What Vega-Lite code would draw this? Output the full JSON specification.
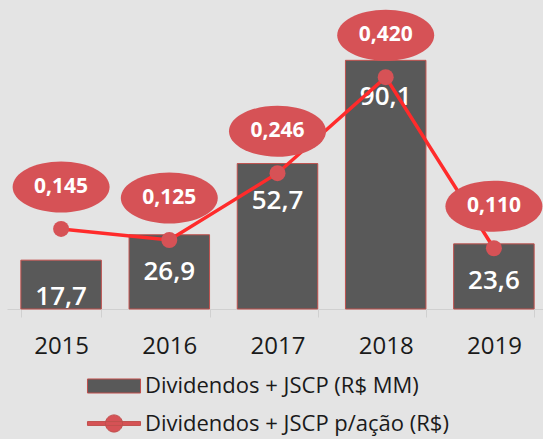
{
  "$schema": "https://vega.github.io/schema/vega-lite/v6.json",
  "width": 541,
  "height": 276,
  "autosize": "none",
  "padding": {"left": 7, "top": 33, "right": 0, "bottom": 130},
  "background": "#e4e4e4",
  "config": {
    "view": {"stroke": null},
    "font": "Open Sans",
    "locale": {"number": {"decimal": ",", "thousands": ".", "grouping": [3], "currency": ["R$", ""]}}
  },
  "data": {
    "values": [
      {"ano": "2015", "div": 17.7, "acao": 0.145},
      {"ano": "2016", "div": 26.9, "acao": 0.125},
      {"ano": "2017", "div": 52.7, "acao": 0.246},
      {"ano": "2018", "div": 90.1, "acao": 0.420},
      {"ano": "2019", "div": 23.6, "acao": 0.110}
    ]
  },
  "encoding": {
    "x": {
      "field": "ano",
      "type": "nominal",
      "scale": {"paddingInner": 0.256, "paddingOuter": 0.128},
      "axis": {
        "title": null,
        "labelAngle": 0,
        "labelFont": "Open Sans",
        "labelFontSize": 24,
        "labelColor": "#1a1a1a",
        "labelPadding": 17,
        "tickBand": "extent",
        "tickSize": 8,
        "tickColor": "#d0d0d0",
        "domainColor": "#d0d0d0",
        "domainWidth": 1,
        "grid": false
      }
    }
  },
  "layer": [
    {
      "mark": {"type": "bar", "stroke": "#c0504d", "strokeWidth": 1},
      "encoding": {
        "y": {"field": "div", "type": "quantitative", "scale": {"domain": [0, 100]}, "axis": null},
        "color": {
          "datum": "Dividendos + JSCP (R$ MM)",
          "scale": {
            "domain": ["Dividendos + JSCP (R$ MM)", "Dividendos + JSCP p/ação (R$)"],
            "range": ["#595959", "#d65256"]
          },
          "legend": {
            "title": null,
            "orient": "none",
            "legendX": 87,
            "legendY": 333,
            "direction": "vertical",
            "padding": 0,
            "symbolSize": 1521,
            "symbolOpacity": 1,
            "symbolStrokeColor": "#c0504d",
            "symbolStrokeWidth": 1,
            "labelFont": "Open Sans",
            "labelFontSize": 22,
            "labelColor": "#1a1a1a",
            "labelOffset": 11,
            "labelLimit": 400,
            "rowPadding": 6.5,
            "encode": {
              "symbols": {
                "update": {
                  "shape": [
                    {"test": "datum.value === 'Dividendos + JSCP (R$ MM)'", "value": "M-1.36,-0.36H1.36V0.36H-1.36Z"},
                    {"value": "M-1.36,-0.1H1.36V0.1H-1.36Z M-0.44,0C-0.44,-0.243,-0.243,-0.44,0,-0.44C0.243,-0.44,0.44,-0.243,0.44,0C0.44,0.243,0.243,0.44,0,0.44C-0.243,0.44,-0.44,0.243,-0.44,0Z"}
                  ]
                }
              }
            }
          }
        }
      }
    },
    {
      "mark": {"type": "text", "color": "white", "fontSize": 26, "fontWeight": 600, "font": "Open Sans", "dy": 37, "baseline": "middle"},
      "encoding": {
        "y": {"field": "div", "type": "quantitative", "scale": {"domain": [0, 100]}, "axis": null},
        "text": {"field": "div", "type": "quantitative", "format": ".1f"}
      }
    },
    {
      "mark": {"type": "line", "color": "#ff2b2b", "strokeWidth": 3.5},
      "encoding": {
        "y": {"field": "acao", "type": "quantitative", "scale": {"domain": [0, 0.5]}, "axis": null}
      }
    },
    {
      "mark": {"type": "point", "filled": true, "size": 256, "opacity": 1},
      "encoding": {
        "y": {"field": "acao", "type": "quantitative", "scale": {"domain": [0, 0.5]}, "axis": null},
        "color": {"datum": "Dividendos + JSCP p/ação (R$)"}
      }
    },
    {
      "mark": {
        "type": "point",
        "shape": "M-1,0C-1,-0.29,-0.552,-0.526,0,-0.526C0.552,-0.526,1,-0.29,1,0C1,0.29,0.552,0.526,0,0.526C-0.552,0.526,-1,0.29,-1,0Z",
        "size": 9409,
        "filled": true,
        "color": "#d65256",
        "opacity": 1,
        "yOffset": -42
      },
      "encoding": {
        "y": {"field": "acao", "type": "quantitative", "scale": {"domain": [0, 0.5]}, "axis": null}
      }
    },
    {
      "mark": {"type": "text", "color": "white", "fontSize": 21, "fontWeight": "bold", "font": "Open Sans", "yOffset": -42, "baseline": "middle"},
      "encoding": {
        "y": {"field": "acao", "type": "quantitative", "scale": {"domain": [0, 0.5]}, "axis": null},
        "text": {"field": "acao", "type": "quantitative", "format": ".3f"}
      }
    }
  ],
  "resolve": {"scale": {"y": "independent"}}
}
